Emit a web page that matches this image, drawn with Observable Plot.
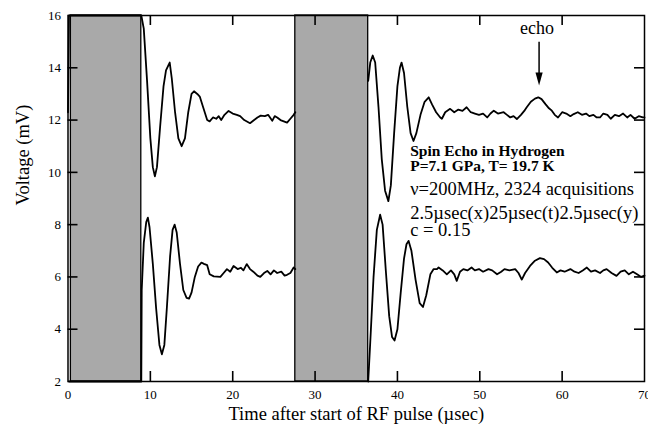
<!DOCTYPE html>
<html><head><meta charset="utf-8">
<script src="https://cdn.jsdelivr.net/npm/d3@7"></script>
<script src="https://cdn.jsdelivr.net/npm/@observablehq/plot@0.6"></script>
<style>body{margin:0;background:#fff} svg{display:block}</style>
</head><body><div id="chart"></div>
<script>
const xTicks = [0, 10, 20, 30, 40, 50, 60, 70];
const yTicks = [2, 4, 6, 8, 10, 12, 14, 16];
const pulseStart = [0.35, 27.6];
const pulseEnd = [8.9, 36.45];

const upperTime = [0, 0.12, 8.9, 9.2, 9.6, 10.0, 10.3, 10.55, 10.8, 11.2, 11.6, 11.9, 12.2, 12.35, 12.6, 13.0, 13.4, 13.8, 14.2, 14.6, 15.0, 15.3, 15.7, 16.0, 16.4, 16.9, 17.2, 17.6, 18.0, 18.3, 18.6, 19.0, 19.5, 20.0, 20.5, 20.9, 21.4, 22.1, 22.6, 23.0, 23.4, 23.9, 24.3, 24.8, 25.1, 25.4, 25.8, 26.2, 26.6, 27.0, 27.4, 27.6,
  32,
  36.45, 36.7, 37.0, 37.3, 37.7, 38.1, 38.5, 38.9, 39.2, 39.6, 40.0, 40.3, 40.5, 40.8, 41.2, 41.6, 41.95, 42.3, 42.8, 43.3, 43.8, 44.2, 44.7, 45.2, 45.4, 45.8, 46.4, 46.9, 47.4, 47.9, 48.4, 48.9, 49.4, 49.9, 50.4, 50.9, 51.3, 51.7, 52.2, 52.9, 53.3, 53.7, 54.1, 54.5, 55.0, 55.4, 55.7, 56.2, 56.7, 57.1, 57.5, 58.0, 58.4, 58.75, 59.1, 59.5, 60.0, 60.5, 61.0, 61.4, 61.9, 62.4, 62.9, 63.3, 63.8, 64.2, 64.6, 65.0, 65.5, 65.9, 66.4, 66.9, 67.4, 67.9, 68.3, 68.8, 69.3, 69.8, 70.0];
const upperVolt = [12.3, 16, 16, 15.5, 13.5, 11.3, 10.2, 9.85, 10.2, 11.8, 13.3, 13.9, 14.1, 14.2, 13.6, 12.3, 11.3, 11.0, 11.3, 12.3, 13.0, 13.1, 13.0, 12.9, 12.5, 12.0, 11.95, 12.1, 12.05, 12.15, 12.0, 12.2, 12.35, 12.25, 12.2, 12.15, 12.0, 11.88, 12.0, 12.1, 12.17, 12.15, 12.2, 11.97, 12.15, 12.1, 12.0, 11.95, 11.9, 12.05, 12.2, 12.3,
  null,
  13.5, 14.2, 14.47, 14.2, 12.5, 10.5, 9.3, 8.9, 9.5, 11.5, 13.3, 14.0, 14.2, 13.8, 12.5, 11.5, 11.2, 11.5, 12.2, 12.7, 12.87, 12.6, 12.3, 12.1, 12.05, 12.3, 12.43, 12.3, 12.4, 12.35, 12.49, 12.3, 12.25, 12.2, 12.25, 12.1, 12.25, 12.36, 12.25, 12.3, 12.2, 12.1, 12.15, 12.04, 12.2, 12.35, 12.49, 12.7, 12.82, 12.87, 12.8, 12.6, 12.45, 12.36, 12.2, 12.1, 12.3, 12.25, 12.15, 12.23, 12.3, 12.2, 12.25, 12.15, 12.2, 12.1, 12.1, 12.25, 12.2, 12.05, 12.2, 12.15, 12.25, 12.1, 12.2, 12.05, 12.15, 12.1, 12.1];

const lowerTime = [0.12, 8.9, 8.95, 9.2, 9.5, 9.7, 9.9, 10.3, 10.7, 11.1, 11.4, 11.7, 12.0, 12.4, 12.7, 12.95, 13.2, 13.6, 14.0, 14.4, 14.7, 15.0, 15.4, 15.8, 16.2, 16.5, 16.9, 17.2, 17.7, 18.5, 18.9, 19.3, 19.7, 20.1, 20.6, 21.0, 21.3, 21.7, 22.1, 22.5, 23.0, 23.35, 23.8, 24.2, 24.6, 25.0, 25.4, 25.9, 26.3, 26.6, 27.0, 27.4, 27.6,
  32,
  36.45, 36.7, 37.1, 37.5, 37.9, 38.2, 38.6, 39.0, 39.35, 39.65, 40.0, 40.4, 40.8, 41.1, 41.35, 41.7, 42.2, 42.7, 43.1, 43.5, 44.0, 44.4, 44.8, 45.0, 45.5, 46.0, 46.5, 46.9, 47.2, 47.6, 48.0, 48.5, 49.0, 49.4, 49.9, 50.4, 51.05, 51.5, 52.1, 52.6, 53.0, 53.6, 54.3, 54.7, 55.1, 55.5, 56.1, 56.7, 57.3, 57.8, 58.3, 58.8, 59.35, 59.8, 60.3, 61.0, 61.5, 62.0, 62.5, 63.0, 63.5, 64.0, 64.6, 65.0, 65.4, 66.0, 66.6, 67.1, 67.6, 68.1, 68.6, 69.1, 69.6, 70.0];
const lowerVolt = [2, 2, 5.5, 7.3, 8.1, 8.27, 7.9, 6.5, 4.8, 3.4, 3.04, 3.4, 4.8, 6.8, 7.8, 8.0, 7.7, 6.5, 5.5, 5.2, 5.17, 5.4, 6.0, 6.4, 6.55, 6.5, 6.45, 6.1, 6.02, 6.0, 6.15, 6.3, 6.2, 6.42, 6.3, 6.35, 6.25, 6.49, 6.3, 6.2, 6.05, 6.0, 6.15, 6.23, 6.1, 6.25, 6.15, 6.2, 6.05, 6.08, 6.15, 6.36, 6.3,
  null,
  2, 3.5, 6.0, 7.8, 8.38, 8.0, 6.2, 4.5, 3.7, 3.57, 4.0, 5.4, 6.7, 7.25, 7.38, 7.0, 5.9, 5.0, 4.85, 5.3, 6.1, 6.3, 6.3, 6.36, 6.25, 6.1, 6.25, 6.1, 5.85, 6.2, 6.3, 6.25, 6.36, 6.25, 6.3, 6.2, 6.3, 6.25, 6.1, 6.2, 6.3, 6.25, 6.3, 6.15, 5.9, 6.15, 6.42, 6.62, 6.72, 6.68, 6.55, 6.35, 6.17, 6.25, 6.2, 6.3, 6.2, 6.15, 6.25, 6.36, 6.2, 6.25, 6.15, 6.25, 6.3, 6.15, 6.04, 6.2, 6.25, 6.1, 6.2, 6.1, 6.0, 6.05];

const xLabel = "Time after start of RF pulse (µsec)";
const yLabel = "Voltage (mV)";
const boldNotes = ["Spin Echo in Hydrogen", "P=7.1 GPa, T= 19.7 K"];
const boldNoteY = [10.61, 10.04];
const plainNotes = ["ν=200MHz, 2324 acquisitions", "2.5µsec(x)25µsec(t)2.5µsec(y)", "c = 0.15"];
const plainNoteY = [9.15, 8.22, 7.58];
const noteX = 41.55;
const echoLabel = "echo";
const echoX = 57.2;
const echoLabelY = 15.31;
const echoArrowTop = 15.0;
const echoArrowTip = 13.32;

const upper = upperTime.map((t, i) => ({t, v: upperVolt[i]}));
const lower = lowerTime.map((t, i) => ({t, v: lowerVolt[i]}));
const pulses = pulseStart.map((s, i) => ({s, e: pulseEnd[i]}));
const bold = boldNotes.map((text, i) => ({text, y: boldNoteY[i]}));
const plain = plainNotes.map((text, i) => ({text, y: plainNoteY[i]}));
const xInner = xTicks.slice(1, -1);
const yInner = yTicks.slice(1, -1);
const [xMin, xMax] = [xTicks[0], xTicks[xTicks.length - 1]];
const [yMin, yMax] = [yTicks[0], yTicks[yTicks.length - 1]];

const W = 648, H = 426, mL = 67.5, mR = 4, mT = 15, mB = 45;
const tickPx = 10;
// inward tick length converted into data units from the plot's pixel extent
const tickLenY = tickPx * (yMax - yMin) / (H - mT - mB);
const tickLenX = tickPx * (xMax - xMin) / (W - mL - mR);

const headSymbol = {draw(c) { c.moveTo(-3.6, -13); c.lineTo(3.6, -13); c.lineTo(0, 0); c.closePath(); }};
const serif = "'Liberation Serif', 'Times New Roman', serif";
const tickStyle = {stroke: "#000", strokeWidth: 1.6};

const chart = Plot.plot({
  width: W, height: H,
  marginLeft: mL, marginRight: mR, marginTop: mT, marginBottom: mB,
  style: {fontFamily: serif, fontSize: "13px", color: "#000", background: "#fff"},
  x: {domain: [xMin, xMax]},
  y: {domain: [yMin, yMax]},
  marks: [
    Plot.rect(pulses, {x1: "s", x2: "e", fill: "#a9a9a9", stroke: "#000", strokeWidth: 1.3}),
    Plot.line(upper, {x: "t", y: "v", stroke: "#000", strokeWidth: 1.8, curve: "linear"}),
    Plot.line(lower, {x: "t", y: "v", stroke: "#000", strokeWidth: 1.8, curve: "linear"}),
    Plot.frame({stroke: "#000", strokeWidth: 1.5}),
    Plot.axisX({ticks: xTicks, tickSize: 0, tickPadding: 8, label: null, fontSize: 13}),
    Plot.axisY({ticks: yTicks, tickSize: 0, tickPadding: 7, label: null, fontSize: 13}),
    Plot.ruleX(xInner, {x: d => d, y1: () => yMin, y2: () => yMin + tickLenY, ...tickStyle}),
    Plot.ruleX(xInner, {x: d => d, y1: () => yMax - tickLenY, y2: () => yMax, ...tickStyle}),
    Plot.ruleY(yInner, {y: d => d, x1: () => xMin, x2: () => xMin + tickLenX, ...tickStyle}),
    Plot.ruleY(yInner, {y: d => d, x1: () => xMax - tickLenX, x2: () => xMax, ...tickStyle}),
    Plot.text([xLabel], {frameAnchor: "bottom", dy: 38, lineAnchor: "bottom", fontSize: 18.5}),
    Plot.text([yLabel], {frameAnchor: "left", dx: -45, dy: 7, rotate: -90, lineAnchor: "middle", fontSize: 18.5}),
    Plot.text(bold, {x: () => noteX, y: "y", text: "text", textAnchor: "start", lineAnchor: "bottom", fontSize: 15.5, fontWeight: "bold"}),
    Plot.text(plain, {x: () => noteX, y: "y", text: "text", textAnchor: "start", lineAnchor: "bottom", fontSize: 18.5}),
    Plot.text([echoLabel], {x: () => echoX, y: () => echoLabelY, dx: -2, lineAnchor: "bottom", fontSize: 18}),
    Plot.link([0], {x1: () => echoX, x2: () => echoX, y1: () => echoArrowTop, y2: () => echoArrowTip + 0.3, stroke: "#000", strokeWidth: 1.5}),
    Plot.dot([0], {x: () => echoX, y: () => echoArrowTip, symbol: headSymbol, fill: "#000", stroke: "none", r: 5})
  ]
});
document.getElementById("chart").append(chart);
</script>
</body></html>
